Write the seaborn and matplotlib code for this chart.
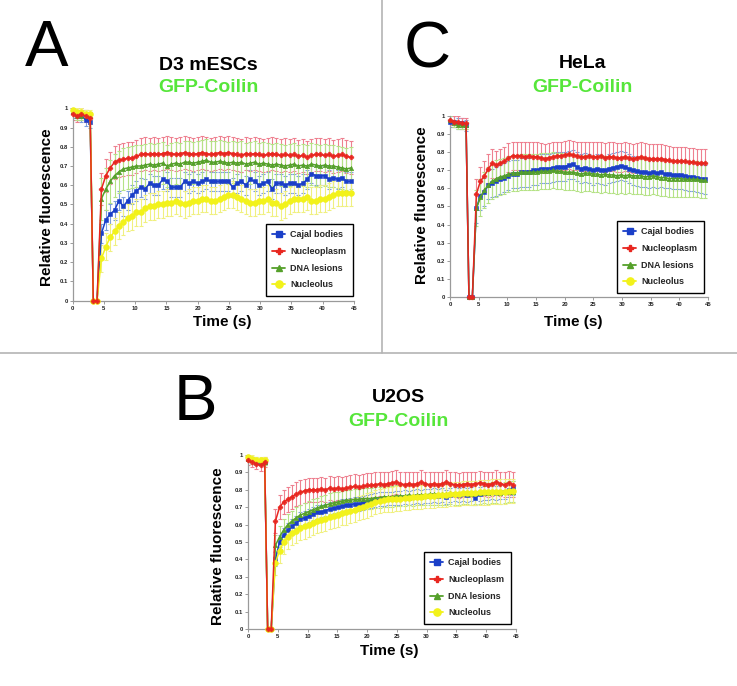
import numpy as np
import pandas as pd
import matplotlib
matplotlib.use('Agg')
import matplotlib.pyplot as plt
from matplotlib.lines import Line2D
import seaborn as sns

sns.set_theme(style='white')
plt.rcParams['font.family'] = ['Liberation Sans', 'DejaVu Sans']

# frame times (s): pre-bleach, bleach, recovery
T_PRE = [0.0, 0.7, 1.4, 2.1, 2.8]
T_BLEACH = [3.3, 3.9]
T_REC = [4.6, 5.3, 6.0, 6.7, 7.4, 8.1, 8.8, 9.5, 10.2, 10.9,
         11.6, 12.3, 13.0, 13.7, 14.4, 15.1, 15.8, 16.5, 17.2, 17.9,
         18.6, 19.3, 20.0, 20.7, 21.4, 22.1, 22.8, 23.5, 24.2, 24.9,
         25.6, 26.3, 27.0, 27.7, 28.4, 29.1, 29.8, 30.5, 31.2, 31.9,
         32.6, 33.3, 34.0, 34.7, 35.4, 36.1, 36.8, 37.5, 38.2, 38.9,
         39.6, 40.3, 41.0, 41.7, 42.4, 43.1, 43.8, 44.5]
BLEACH = [0.0, 0.0]

labels = ['Cajal bodies', 'Nucleoplasm', 'DNA lesions', 'Nucleolus']

# ---- A : D3 mESCs ----
a_blue_pre = [0.98, 0.97, 0.96, 0.94, 0.93]
a_blue_rec = [0.35, 0.42, 0.45, 0.47, 0.52, 0.49, 0.52, 0.55, 0.57, 0.59,
              0.58, 0.61, 0.60, 0.60, 0.63, 0.62, 0.59, 0.59, 0.59, 0.62,
              0.61, 0.62, 0.61, 0.62, 0.63, 0.62, 0.62, 0.62, 0.62, 0.62,
              0.59, 0.61, 0.62, 0.60, 0.63, 0.62, 0.60, 0.61, 0.62, 0.58,
              0.61, 0.61, 0.60, 0.61, 0.61, 0.60, 0.61, 0.63, 0.66, 0.65,
              0.65, 0.65, 0.63, 0.64, 0.63, 0.64, 0.62, 0.62]
a_red_pre = [0.97, 0.96, 0.97, 0.96, 0.95]
a_red_rec = [0.58, 0.65, 0.69, 0.72, 0.73, 0.735, 0.74, 0.74, 0.75, 0.76,
             0.765, 0.76, 0.765, 0.76, 0.765, 0.77, 0.765, 0.76, 0.765, 0.77,
             0.765, 0.76, 0.765, 0.77, 0.765, 0.76, 0.765, 0.77, 0.765, 0.77,
             0.765, 0.76, 0.755, 0.765, 0.76, 0.765, 0.76, 0.755, 0.76, 0.765,
             0.76, 0.755, 0.76, 0.755, 0.76, 0.75, 0.755, 0.745, 0.755, 0.76,
             0.76, 0.755, 0.76, 0.75, 0.755, 0.76, 0.75, 0.745]
a_green_pre = [0.98, 0.96, 0.96, 0.97, 0.96]
a_green_rec = [0.53, 0.58, 0.62, 0.65, 0.67, 0.685, 0.69, 0.695, 0.70, 0.70,
               0.705, 0.71, 0.705, 0.71, 0.715, 0.70, 0.71, 0.715, 0.71, 0.72,
               0.72, 0.715, 0.72, 0.725, 0.73, 0.72, 0.72, 0.725, 0.72, 0.715,
               0.72, 0.715, 0.72, 0.71, 0.715, 0.72, 0.71, 0.715, 0.71, 0.705,
               0.71, 0.705, 0.70, 0.705, 0.71, 0.70, 0.705, 0.70, 0.71, 0.705,
               0.70, 0.705, 0.70, 0.70, 0.695, 0.69, 0.685, 0.69]
a_yellow_pre = [0.99, 0.98, 0.98, 0.97, 0.97]
a_yellow_rec = [0.22, 0.28, 0.33, 0.36, 0.39, 0.41, 0.43, 0.44, 0.46, 0.46,
                0.48, 0.49, 0.49, 0.50, 0.50, 0.51, 0.51, 0.52, 0.51, 0.50,
                0.51, 0.52, 0.52, 0.53, 0.53, 0.52, 0.52, 0.53, 0.54, 0.55,
                0.55, 0.54, 0.53, 0.52, 0.51, 0.51, 0.52, 0.52, 0.53, 0.51,
                0.51, 0.49, 0.50, 0.52, 0.53, 0.53, 0.53, 0.54, 0.52, 0.52,
                0.53, 0.53, 0.54, 0.55, 0.56, 0.56, 0.56, 0.56]
# SD (pre-bleach, recovery)
a_err = {'Cajal bodies': (0.03, 0.05), 'Nucleoplasm': (0.03, 0.085),
         'DNA lesions': (0.02, 0.11), 'Nucleolus': (0.02, 0.07)}

# ---- C : HeLa ----
c_blue_pre = [0.97, 0.97, 0.96, 0.96, 0.95]
c_blue_rec = [0.49, 0.56, 0.58, 0.62, 0.63, 0.64, 0.65, 0.66, 0.67, 0.68,
              0.68, 0.69, 0.69, 0.69, 0.70, 0.70, 0.71, 0.71, 0.71, 0.715,
              0.72, 0.72, 0.72, 0.73, 0.735, 0.72, 0.71, 0.715, 0.71, 0.70,
              0.71, 0.705, 0.70, 0.71, 0.715, 0.72, 0.725, 0.72, 0.71, 0.70,
              0.695, 0.69, 0.69, 0.685, 0.69, 0.685, 0.69, 0.68, 0.68, 0.675,
              0.675, 0.675, 0.67, 0.665, 0.665, 0.66, 0.655, 0.65]
c_red_pre = [0.98, 0.97, 0.97, 0.96, 0.96]
c_red_rec = [0.57, 0.64, 0.67, 0.71, 0.74, 0.73, 0.74, 0.75, 0.77, 0.78,
             0.78, 0.78, 0.775, 0.78, 0.775, 0.775, 0.77, 0.765, 0.77, 0.775,
             0.78, 0.78, 0.785, 0.79, 0.785, 0.78, 0.775, 0.775, 0.78, 0.775,
             0.775, 0.78, 0.77, 0.775, 0.775, 0.77, 0.77, 0.775, 0.77, 0.765,
             0.77, 0.775, 0.77, 0.765, 0.765, 0.765, 0.765, 0.76, 0.755, 0.75,
             0.75, 0.75, 0.75, 0.745, 0.745, 0.74, 0.74, 0.74]
c_green_pre = [0.98, 0.96, 0.95, 0.95, 0.95]
c_green_rec = [0.49, 0.55, 0.59, 0.62, 0.64, 0.655, 0.665, 0.67, 0.68, 0.685,
               0.685, 0.69, 0.69, 0.69, 0.69, 0.69, 0.695, 0.695, 0.695, 0.70,
               0.695, 0.695, 0.69, 0.69, 0.69, 0.685, 0.68, 0.685, 0.685, 0.68,
               0.68, 0.675, 0.68, 0.675, 0.675, 0.67, 0.675, 0.67, 0.675, 0.67,
               0.67, 0.67, 0.665, 0.665, 0.67, 0.665, 0.66, 0.66, 0.655, 0.655,
               0.655, 0.655, 0.65, 0.65, 0.65, 0.65, 0.645, 0.645]
c_err = {'Cajal bodies': (0.03, 0.08), 'Nucleoplasm': (0.03, 0.08),
         'DNA lesions': (0.02, 0.10)}

# ---- B : U2OS ----
b_blue_pre = [0.98, 0.97, 0.96, 0.96, 0.96]
b_blue_rec = [0.40, 0.50, 0.54, 0.57, 0.59, 0.61, 0.63, 0.64, 0.65, 0.66,
              0.67, 0.675, 0.68, 0.69, 0.695, 0.70, 0.705, 0.71, 0.715, 0.72,
              0.72, 0.725, 0.73, 0.735, 0.74, 0.745, 0.745, 0.75, 0.75, 0.755,
              0.755, 0.76, 0.755, 0.76, 0.765, 0.76, 0.765, 0.765, 0.77, 0.765,
              0.77, 0.76, 0.77, 0.775, 0.77, 0.775, 0.77, 0.775, 0.755, 0.775,
              0.78, 0.78, 0.785, 0.78, 0.785, 0.79, 0.80, 0.81]
b_red_pre = [0.97, 0.96, 0.95, 0.94, 0.96]
b_red_rec = [0.62, 0.70, 0.73, 0.745, 0.76, 0.775, 0.785, 0.795, 0.80, 0.80,
             0.80, 0.805, 0.80, 0.81, 0.805, 0.81, 0.805, 0.81, 0.815, 0.82,
             0.815, 0.82, 0.825, 0.825, 0.83, 0.835, 0.83, 0.835, 0.84, 0.845,
             0.835, 0.83, 0.835, 0.83, 0.835, 0.845, 0.835, 0.83, 0.835, 0.83,
             0.835, 0.845, 0.835, 0.83, 0.825, 0.83, 0.835, 0.83, 0.835, 0.84,
             0.835, 0.83, 0.835, 0.845, 0.835, 0.83, 0.84, 0.83]
b_green_pre = [0.98, 0.97, 0.97, 0.96, 0.96]
b_green_rec = [0.48, 0.53, 0.57, 0.60, 0.62, 0.64, 0.655, 0.665, 0.675, 0.685,
               0.695, 0.705, 0.71, 0.72, 0.725, 0.73, 0.735, 0.74, 0.74, 0.745,
               0.745, 0.75, 0.75, 0.75, 0.755, 0.755, 0.76, 0.76, 0.76, 0.765,
               0.765, 0.765, 0.77, 0.765, 0.77, 0.77, 0.77, 0.775, 0.775, 0.77,
               0.775, 0.775, 0.78, 0.775, 0.775, 0.78, 0.78, 0.775, 0.78, 0.78,
               0.785, 0.78, 0.785, 0.785, 0.78, 0.785, 0.79, 0.79]
b_yellow_pre = [0.99, 0.98, 0.97, 0.97, 0.97]
b_yellow_rec = [0.38, 0.45, 0.50, 0.53, 0.55, 0.565, 0.58, 0.59, 0.60, 0.61,
                0.62, 0.625, 0.635, 0.645, 0.65, 0.655, 0.665, 0.67, 0.68, 0.685,
                0.695, 0.70, 0.71, 0.72, 0.73, 0.735, 0.74, 0.745, 0.745, 0.75,
                0.75, 0.755, 0.755, 0.76, 0.76, 0.76, 0.765, 0.765, 0.765, 0.77,
                0.77, 0.77, 0.775, 0.775, 0.775, 0.78, 0.78, 0.78, 0.78, 0.785,
                0.785, 0.785, 0.79, 0.79, 0.79, 0.79, 0.795, 0.795]
b_err = {'Cajal bodies': (0.02, 0.04), 'Nucleoplasm': (0.03, 0.07),
         'DNA lesions': (0.02, 0.06), 'Nucleolus': (0.02, 0.07)}

time = np.array(T_PRE + T_BLEACH + T_REC)

# style of each series
style = {
    'Cajal bodies': dict(color='#1a3fc8', ecolor='#7c9fdc', marker='s', ms=3.0, z=4),
    'Nucleoplasm': dict(color='#e8261f', ecolor='#ee8090', marker='P', ms=3.4, z=7),
    'DNA lesions': dict(color='#55a02a', ecolor='#b5e286', marker='^', ms=3.2, z=5),
    'Nucleolus': dict(color='#f2f21a', ecolor='#f0f080', marker='o', ms=4.2, z=6),
}
GFP_GREEN = '#56e63a'


def draw_panel(ax, series, err):
    df = pd.DataFrame({'time': time})
    for name, (pre, rec) in series.items():
        df[name] = pre + BLEACH + rec
    # error bars underneath
    for name in series:
        st = style[name]
        e_pre, e_rec = err[name]
        yerr = np.array([e_pre] * len(T_PRE) + [0.0] * len(T_BLEACH) + [e_rec] * len(T_REC))
        ax.errorbar(df['time'], df[name], yerr=yerr, fmt='none', ecolor=st['ecolor'],
                    elinewidth=0.8, capsize=1.4, capthick=0.8, zorder=2)
    for name in series:
        st = style[name]
        sns.lineplot(data=df, x='time', y=name, ax=ax, color=st['color'], marker=st['marker'],
                     markersize=st['ms'], markeredgecolor=st['color'], markeredgewidth=0.4,
                     linewidth=1.1, zorder=st['z'], clip_on=False, legend=False)
    ax.set_xlim(0, 45)
    ax.set_ylim(0, 1)
    ax.set_xticks(range(0, 46, 5))
    yt = [0, 0.1, 0.2, 0.3, 0.4, 0.5, 0.6, 0.7, 0.8, 0.9, 1]
    ax.set_yticks(yt)
    ax.set_yticklabels(['%g' % v for v in yt])
    ax.set_xlabel('')
    ax.set_ylabel('')
    ax.tick_params(axis='both', labelsize=4.2, length=2, width=0.6, color='#8c8c8c',
                   pad=1.5, labelcolor='#222222', bottom=True, left=True)
    for lbl in ax.get_xticklabels() + ax.get_yticklabels():
        lbl.set_fontweight('bold')
    for side in ['top', 'right']:
        ax.spines[side].set_visible(False)
    for side in ['left', 'bottom']:
        ax.spines[side].set_color('#9a9a9a')
        ax.spines[side].set_linewidth(0.9)
    ax.set_facecolor('none')


def add_legend(ax, x0, y0):
    handles = [Line2D([], [], color=style[n]['color'], marker=style[n]['marker'],
                      markersize=style[n]['ms'] + 1, markeredgecolor=style[n]['color'],
                      linewidth=1.3) for n in labels]
    leg = ax.legend(handles, labels, loc='upper left', bbox_to_anchor=(x0 / 737, 1 - y0 / 686),
                    bbox_transform=fig.transFigure, prop={'size': 6.5, 'weight': 'bold'},
                    frameon=True, fancybox=False, edgecolor='black', framealpha=1,
                    borderpad=0.7, borderaxespad=0, labelspacing=0.85, handlelength=1.4,
                    handletextpad=0.6)
    leg.get_frame().set_linewidth(1.0)


def fx(px):
    return px / 737


def fy(py):
    return 1 - py / 686


fig = plt.figure(figsize=(7.37, 6.86), dpi=100)
fig.patch.set_facecolor('white')

axA = fig.add_axes([0.0986, 0.5617, 0.3817, 0.2804])
axC = fig.add_axes([0.6106, 0.5675, 0.3501, 0.2630])
axB = fig.add_axes([0.3365, 0.0831, 0.3636, 0.2536])

draw_panel(axA, {'Cajal bodies': (a_blue_pre, a_blue_rec),
                 'Nucleoplasm': (a_red_pre, a_red_rec),
                 'DNA lesions': (a_green_pre, a_green_rec),
                 'Nucleolus': (a_yellow_pre, a_yellow_rec)}, a_err)
draw_panel(axC, {'Cajal bodies': (c_blue_pre, c_blue_rec),
                 'Nucleoplasm': (c_red_pre, c_red_rec),
                 'DNA lesions': (c_green_pre, c_green_rec)}, c_err)
draw_panel(axB, {'Cajal bodies': (b_blue_pre, b_blue_rec),
                 'Nucleoplasm': (b_red_pre, b_red_rec),
                 'DNA lesions': (b_green_pre, b_green_rec),
                 'Nucleolus': (b_yellow_pre, b_yellow_rec)}, b_err)

add_legend(axA, 266, 224)
add_legend(axC, 617, 221)
add_legend(axB, 424, 552)

# panel letters, titles, axis labels
panels = [
    ('A', 47, 49, 'D3 mESCs', 208, 65, 88, 47, 207, 222, 322),
    ('C', 427, 51, 'HeLa', 582, 63, 88, 422, 205, 573, 322),
    ('B', 195, 403, 'U2OS', 398, 397, 422, 218, 546, 389, 651),
]
for letter, lx, ly, title, tx, ty, gy, ylx, yly, xlx, xly in panels:
    fig.text(fx(lx), fy(ly), letter, fontsize=47, ha='center', va='center', color='black')
    fig.text(fx(tx), fy(ty), title, fontsize=14, fontweight='bold', ha='center', va='center',
             color='black')
    fig.text(fx(tx), fy(gy), 'GFP-Coilin', fontsize=14, fontweight='bold', ha='center',
             va='center', color=GFP_GREEN)
    fig.text(fx(ylx), fy(yly), 'Relative fluorescence', fontsize=11, fontweight='bold',
             rotation=90, ha='center', va='center', color='black')
    fig.text(fx(xlx), fy(xly), 'Time (s)', fontsize=11, fontweight='bold', ha='center',
             va='center', color='black')

# separator lines between panels
fig.add_artist(Line2D([fx(382), fx(382)], [1, fy(353)], color='#b4b4b4', linewidth=1.2))
fig.add_artist(Line2D([0, 1], [fy(353), fy(353)], color='#b4b4b4', linewidth=1.2))

fig.savefig('out.png', dpi=100, facecolor='white')
